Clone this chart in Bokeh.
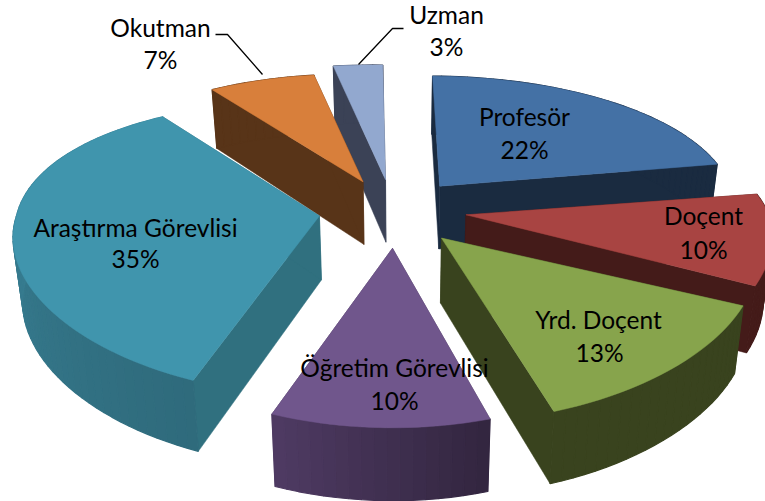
import numpy as np
from bokeh.plotting import figure
from bokeh.models import Range1d
from bokeh.embed import file_html
from bokeh.resources import INLINE
from bokeh.core.properties import value

categories = ["Profesör", "Doçent", "Yrd. Doçent", "Öğretim Görevlisi", "Araştırma Görevlisi", "Okutman", "Uzman"]
percent = [22, 10, 13, 10, 35, 7, 3]

top_colors = ["#4471A5", "#A84442", "#87A44C", "#70568C", "#4095AD", "#D87F3B", "#92A8CF"]
wall_colors = ["#1A2B40", "#441B19", "#39431E", "#4C3A5E", "#30707F", "#583418", "#3B4256"]
rim_start = ["#1A2B40", "#441B19", "#39431E", "#332640", "#2F6B7C", "#583418", "#3B4256"]
rim_end = ["#1A2B40", "#441B19", "#39431E", "#4E3A62", "#3D8AA0", "#583418", "#3B4256"]
draw_order = [6, 5, 0, 1, 4, 3, 2]

slice_rot_deg = [1, 2, 0, 2, 3, 2, 2]
slice_scale = [0.96, 1.0, 1.03, 1.0, 1.0, 0.94, 1.0]

label_pos = [(524, 116, 524, 149), (703, 215, 703, 249), (598, 319, 599, 352),
             (394, 367, 394, 400), (135, 227, 135, 258), (160, 27, 160, 59), (446, 14, 446, 46)]
leader_x = [[215, 227, 262], [358, 392, 403]]
leader_y = [[34, 34, 74], [64, 28, 28]]

CX, CY, A, B, PX, PY = 392, 210, 303, 140, 0.15, 0.22
EX, EY = 74, 34
SKEW = 12


def project(u, v):
    return A * u / (1 + PX * v) - SKEW * np.maximum(v, 0), -B * v / (1 + PY * v)


def lower(x, y):
    return 400 + 0.975 * (x - 400), y + 55 + 0.042 * y


def hex_mix(a, b, t):
    ca = [int(a[i:i + 2], 16) for i in (1, 3, 5)]
    cb = [int(b[i:i + 2], 16) for i in (1, 3, 5)]
    return "#%02x%02x%02x" % tuple(int(round(x + (y - x) * t)) for x, y in zip(ca, cb))


fr = np.asarray(percent, float) / sum(percent)
edges = np.concatenate([[0], np.cumsum(fr)]) * 2 * np.pi

p = figure(width=765, height=501, output_backend="svg", toolbar_location=None,
           x_range=Range1d(0, 765), y_range=Range1d(501, 0), min_border=0,
           background_fill_color="white", border_fill_color="white")
p.axis.visible = False
p.grid.visible = False
p.outline_line_color = None

for i in draw_order:
    a0, a1 = edges[i], edges[i + 1]
    mid = (a0 + a1) / 2
    ax = CX + EX * np.sin(mid)
    ay = CY - EY * np.cos(mid) / (1 + 0.1 * np.cos(mid))
    th = np.linspace(a0, a1, max(int((a1 - a0) * 30), 6)) + np.deg2rad(slice_rot_deg[i])
    px, py = project(np.sin(th), np.cos(th))
    xs, ys = ax + slice_scale[i] * px, ay + slice_scale[i] * py
    lx, ly = lower(xs, ys)
    alx, aly = lower(ax, ay)
    for xe, ye, lxe, lye in ((xs[0], ys[0], lx[0], ly[0]), (xs[-1], ys[-1], lx[-1], ly[-1])):
        p.patch([ax, xe, lxe, alx], [ay, ye, lye, aly], fill_color=wall_colors[i],
                line_color=wall_colors[i], line_width=0.5)
    n = len(th) - 1
    for k in range(n):
        c = hex_mix(rim_start[i], rim_end[i], k / max(n - 1, 1))
        p.patch([xs[k], xs[k + 1], lx[k + 1], lx[k]], [ys[k], ys[k + 1], ly[k + 1], ly[k]],
                fill_color=c, line_color=c, line_width=1.2)
    p.patch(np.r_[ax, xs], np.r_[ay, ys], fill_color=top_colors[i], line_color=top_colors[i], line_width=0.5)

for lxs, lys in zip(leader_x, leader_y):
    p.line(lxs, lys, line_color="black", line_width=1.3)

for c, v, (x1, y1, x2, y2) in zip(categories, percent, label_pos):
    p.text([x1], [y1], text=[c], text_font=value("Lato"), text_font_size="24.5px", text_color="black",
           text_align="center", text_baseline="middle")
    p.text([x2], [y2], text=[f"{v}%"], text_font=value("Lato"), text_font_size="24.5px", text_color="black",
           text_align="center", text_baseline="middle")

open("out.html", "w").write(file_html(p, INLINE))
